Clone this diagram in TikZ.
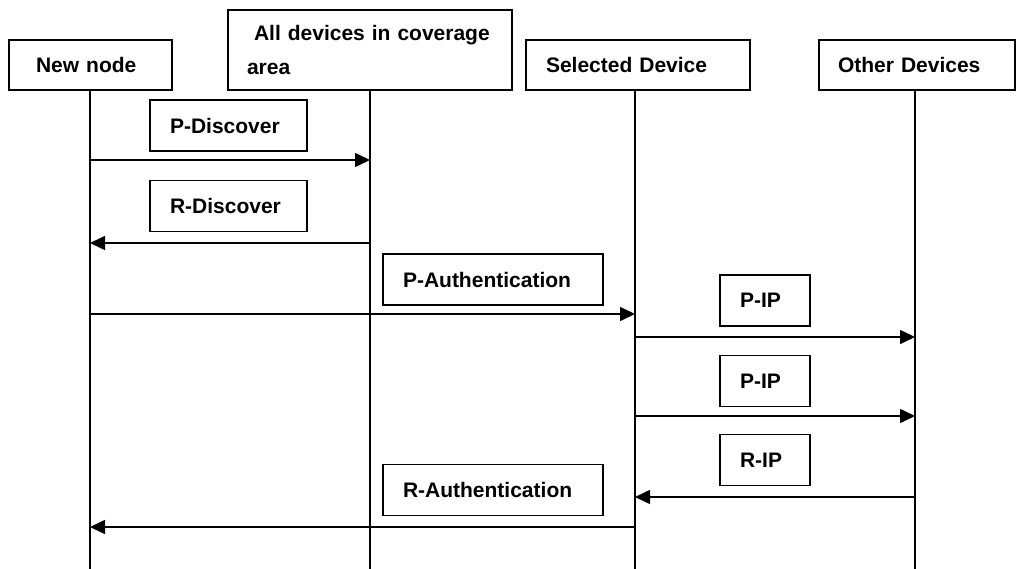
\documentclass[tikz,border=0pt]{standalone}
\usepackage{fontspec}
\setmainfont{Liberation Sans}
\usetikzlibrary{arrows.meta}

\begin{document}
\begin{tikzpicture}
      [x=1pt,y=-1pt,
      %%%%%%%%%%%%%%%%%%%%%%%%%%%%%%
      headbox/.style={rectangle,draw=black,line width=1.6pt,minimum height=50pt,
        inner xsep=19pt,align=left,text width=#1,
        font=\bfseries\fontsize{21}{34}\selectfont},
      msgbox/.style={rectangle,draw=black,line width=1.6pt,minimum height=51pt,
        inner xsep=20pt,align=left,text width=#1,
        font=\bfseries\fontsize{21}{25}\selectfont},
      life/.style={line width=1.6pt},
      call/.style={line width=1.6pt,-{Triangle[length=15pt,width=14pt]}},
      ]%%%%%%%%%%%%%%%%%%%%%%%%%%%%%%

      \useasboundingbox (0,0) rectangle (1016,569);

      % header boxes
      \node[headbox=109,inner xsep=27pt] (newnode) at (90.5,65) {New node};
      \node[headbox=246,minimum height=80pt] (alldev) at (370,50)
        {\ All devices in coverage\\area};
      \node[headbox=184,inner xsep=20pt] (seldev) at (638,65) {Selected Device};
      \node[headbox=158] (otherdev) at (917,65) {Other Devices};

      % life lines
      \coordinate (nnbot) at (90,569);
      \coordinate (adbot) at (370,569);
      \coordinate (sdbot) at (635,569);
      \coordinate (odbot) at (915,569);
      \draw[life] (nnbot |- newnode.south) -- (nnbot);
      \draw[life] (adbot |- alldev.south) -- (adbot);
      \draw[life] (sdbot |- seldev.south) -- (sdbot);
      \draw[life] (odbot |- otherdev.south) -- (odbot);

      % message labels
      \node[msgbox=117] (pdisc) at (228.5,125.5) {P-Discover};
      \node[msgbox=117] (rdisc) at (228.5,206) {R-Discover};
      \node[msgbox=180] (pauth) at (493,279.5) {P-Authentication};
      \node[msgbox=50] (pipa) at (765,300.5) {P-IP};
      \node[msgbox=50] (pipb) at (765,381) {P-IP};
      \node[msgbox=50] (rip) at (765,460) {R-IP};
      \node[msgbox=180] (rauth) at (493,490) {R-Authentication};

      % messages
      \coordinate (m1) at (0,160);
      \coordinate (m2) at (0,243);
      \coordinate (m3) at (0,314);
      \coordinate (m4) at (0,337);
      \coordinate (m5) at (0,416);
      \coordinate (m6) at (0,497);
      \coordinate (m7) at (0,527);
      \draw[call] (nnbot |- m1) -- (adbot |- m1);
      \draw[call] (adbot |- m2) -- (nnbot |- m2);
      \draw[call] (nnbot |- m3) -- (sdbot |- m3);
      \draw[call] (sdbot |- m4) -- (odbot |- m4);
      \draw[call] (sdbot |- m5) -- (odbot |- m5);
      \draw[call] (odbot |- m6) -- (sdbot |- m6);
      \draw[call] (sdbot |- m7) -- (nnbot |- m7);
    \end{tikzpicture}
\end{document}
